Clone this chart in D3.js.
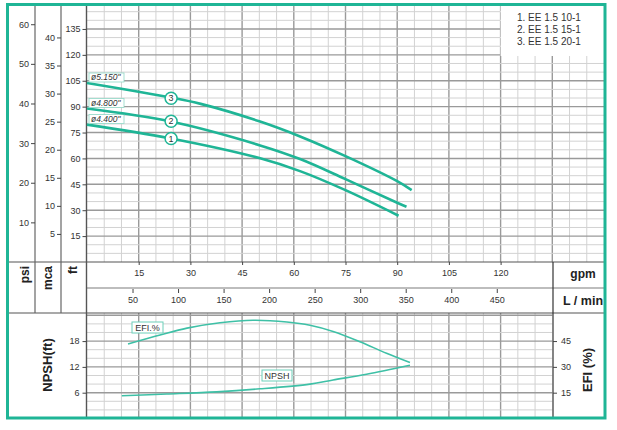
<!DOCTYPE html>
<html>
<head>
<meta charset="utf-8">
<script src="https://cdn.jsdelivr.net/npm/d3@7"></script>
<style>
body { margin:0; background:#fff; }
text { font-family: "Liberation Sans", Arial, sans-serif; }
</style>
</head>
<body>
<svg id="drawing_region"></svg>
<script>
// pump curves: flow (gpm) and head (ft)
const flow1 = [0, 24, 50, 62, 75, 90.4];
const head1 = [79.6, 71.7, 60.2, 52.5, 41.6, 26.8];
const flow2 = [0, 24, 50, 62, 75, 90, 92.7];
const head2 = [88.9, 81.5, 67.7, 59.5, 48.0, 34.3, 32.0];
const flow3 = [0, 24, 33, 50, 62, 75, 90, 94.2];
const head3 = [103.7, 95.4, 91.6, 81.5, 72.6, 61.3, 46.8, 41.6];
const impellers = ['ø4.400"', 'ø4.800"', 'ø5.150"'];
const models = ['1. EE 1.5 10-1', '2. EE 1.5 15-1', '3. EE 1.5 20-1'];
const markerFlow = [24.4, 24.4, 24.4];
const markerHead = [71.5, 81.5, 94.9];

// efficiency (%) and npsh (ft)
const efiFlow = [11.9, 21.2, 29, 38.6, 48.2, 58, 64.7, 71.4, 79.2, 86.9, 93.7];
const efiValue = [43.3, 48.5, 52.5, 55.6, 57.1, 56.1, 54.2, 50.6, 44.6, 37.9, 32.5];
const npshFlow = [10.1, 23.1, 37.6, 50.2, 64.7, 71.4, 81.1, 93.7];
const npshValue = [5.3, 5.7, 6.2, 6.9, 8.0, 8.95, 10.3, 12.4];

// tick labels
const psiTicks = [10, 20, 30, 40, 50, 60];
const mcaTicks = [5, 10, 15, 20, 25, 30, 35, 40];
const ftTicks = [15, 30, 45, 60, 75, 90, 105, 120, 135];
const gpmTicks = [15, 30, 45, 60, 75, 90, 105, 120];
const lpmTicks = [50, 100, 150, 200, 250, 300, 350, 400, 450];
const npshTicks = [6, 12, 18];
const efiTicks = [15, 30, 45];

const teal = '#1fb596';
const W = 617, H = 430;

const svg = d3.select('#drawing_region')
    .attr('width', W)
    .attr('height', H);

// scales
const x = d3.scaleLinear().domain([0, 150]).range([87, 604]);
const xl = d3.scaleLinear().domain([0, 150 * 3.785]).range([87, 604]);
const yFt = d3.scaleLinear().domain([0, 148.3]).range([262, 6]);
const yPsi = d3.scaleLinear().domain([0, 64.6]).range([262, 6]);
const yMca = d3.scaleLinear().domain([0, 45.6]).range([262, 6]);
const yNpsh = d3.scaleLinear().domain([0, 24.53]).range([418.5, 313]);
const yEfi = d3.scaleLinear().domain([0, 61.3]).range([418.5, 313]);

// ---- grid, top chart
const grid = svg.append('g');
d3.range(5, 150, 5).forEach(v => {
    grid.append('line')
        .attr('x1', x(v)).attr('x2', x(v))
        .attr('y1', 6).attr('y2', 262)
        .attr('stroke', v % 15 == 0 ? '#9a9a9a' : '#d2d2d2')
        .attr('stroke-width', v % 15 == 0 ? 1.4 : 1);
});
d3.range(5, 148, 5).forEach(v => {
    grid.append('line')
        .attr('x1', x(0)).attr('x2', x(150))
        .attr('y1', yFt(v)).attr('y2', yFt(v))
        .attr('stroke', v % 15 == 0 ? '#9a9a9a' : '#d2d2d2')
        .attr('stroke-width', v % 15 == 0 ? 1.4 : 1);
});

// ---- grid, bottom chart
d3.range(5, 135, 5).forEach(v => {
    grid.append('line')
        .attr('x1', x(v)).attr('x2', x(v))
        .attr('y1', 313).attr('y2', 417)
        .attr('stroke', v % 15 == 0 ? '#9a9a9a' : '#d2d2d2')
        .attr('stroke-width', v % 15 == 0 ? 1.4 : 1);
});
d3.range(2, 25, 2).forEach(v => {
    grid.append('line')
        .attr('x1', x(0)).attr('x2', x(135))
        .attr('y1', yNpsh(v)).attr('y2', yNpsh(v))
        .attr('stroke', v % 6 == 0 ? '#9a9a9a' : '#d2d2d2')
        .attr('stroke-width', v % 6 == 0 ? 1.4 : 1);
});

// legend box
svg.append('rect')
    .attr('x', x(120)).attr('y', 6)
    .attr('width', x(150) - x(120)).attr('height', 50)
    .attr('fill', 'white');
svg.selectAll('.model')
    .data(models)
    .enter()
    .append('text')
    .attr('x', 517)
    .attr('y', (d, i) => 20.5 + i * 12)
    .attr('font-size', '10px')
    .attr('fill', '#333')
    .text(d => d);

// ---- frame lines
const lines = [
    [7, 262, 604, 262, '#555', 1.2],
    [7, 313, 604, 313, '#555', 1.2],
    [87, 288, 604, 288, '#bdbdbd', 2.2],
    [35, 6, 35, 313, '#666', 1.2],
    [61, 6, 61, 313, '#666', 1.2],
    [86.5, 6, 86.5, 417, '#555', 1.4],
    [553, 262, 553, 417, '#333', 1.2]
];
lines.forEach(l => {
    svg.append('line')
        .attr('x1', l[0]).attr('y1', l[1])
        .attr('x2', l[2]).attr('y2', l[3])
        .attr('stroke', l[4]).attr('stroke-width', l[5]);
});

// ---- axes
function styleAxis(g) {
    g.select('.domain').remove();
    g.selectAll('text').attr('font-size', '9px').attr('fill', '#333')
        .attr('font-family', '"Liberation Sans", Arial, sans-serif');
    g.selectAll('line').attr('stroke', '#444');
}
svg.append('g').attr('transform', 'translate(35,0)')
    .call(d3.axisLeft(yPsi).tickValues(psiTicks).tickSize(4).tickPadding(2))
    .call(styleAxis);
svg.append('g').attr('transform', 'translate(61,0)')
    .call(d3.axisLeft(yMca).tickValues(mcaTicks).tickSize(4).tickPadding(2))
    .call(styleAxis);
svg.append('g').attr('transform', 'translate(86.5,0)')
    .call(d3.axisLeft(yFt).tickValues(ftTicks).tickSize(4).tickPadding(2))
    .call(styleAxis);
svg.append('g').attr('transform', 'translate(0,262)')
    .call(d3.axisBottom(x).tickValues(gpmTicks).tickSize(3).tickPadding(5))
    .call(styleAxis);
svg.append('g').attr('transform', 'translate(0,289)')
    .call(d3.axisBottom(xl).tickValues(lpmTicks).tickSize(4).tickPadding(4))
    .call(styleAxis);
svg.append('g').attr('transform', 'translate(86.5,0)')
    .call(d3.axisLeft(yNpsh).tickValues(npshTicks).tickSize(4).tickPadding(3))
    .call(styleAxis);
svg.append('g').attr('transform', 'translate(553,0)')
    .call(d3.axisRight(yEfi).tickValues(efiTicks).tickSize(4).tickPadding(4))
    .call(styleAxis);

// ---- axis titles
const titles = [
    ['psi', 25, 266, -90, 'end', 12],
    ['mca', 48.3, 266, -90, 'end', 12],
    ['ft', 73.3, 266, -90, 'end', 12],
    ['NPSH(ft)', 47, 365, -90, 'middle', 13],
    ['EFI (%)', 587, 370, -90, 'middle', 13],
    ['gpm', 583, 274, 0, 'middle', 12],
    ['L / min', 583, 301, 0, 'middle', 12.5]
];
titles.forEach(t => {
    svg.append('text')
        .attr('transform', `translate(${t[1]},${t[2]}) rotate(${t[3]})`)
        .attr('text-anchor', t[4])
        .attr('dominant-baseline', 'central')
        .attr('font-size', t[5] + 'px')
        .attr('font-weight', 'bold')
        .attr('fill', '#222')
        .text(t[0]);
});

// ---- pump curves
const line = d3.line()
    .x(d => x(d[0]))
    .y(d => yFt(d[1]))
    .curve(d3.curveCatmullRom.alpha(0.5));
const curves = [
    d3.zip(flow1, head1),
    d3.zip(flow2, head2),
    d3.zip(flow3, head3)
];
curves.forEach((c, i) => {
    svg.append('path')
        .attr('d', line(c))
        .attr('fill', 'none')
        .attr('stroke', teal)
        .attr('stroke-width', 2.6);

    // impeller label at curve start
    const y0 = yFt(c[0][1]);
    svg.append('rect')
        .attr('x', 89).attr('y', y0 - 10)
        .attr('width', 35).attr('height', 9)
        .attr('fill', 'white')
        .attr('stroke', '#8fd8c6')
        .attr('stroke-width', 0.8);
    svg.append('text')
        .attr('x', 91).attr('y', y0 - 2.5)
        .attr('font-size', '8.5px')
        .attr('font-style', 'italic')
        .attr('fill', '#333')
        .text(impellers[i]);

    // numbered marker
    svg.append('circle')
        .attr('cx', x(markerFlow[i]))
        .attr('cy', yFt(markerHead[i]))
        .attr('r', 6)
        .attr('fill', 'white')
        .attr('stroke', teal)
        .attr('stroke-width', 1.5);
    svg.append('text')
        .attr('x', x(markerFlow[i]))
        .attr('y', yFt(markerHead[i]))
        .attr('text-anchor', 'middle')
        .attr('dominant-baseline', 'central')
        .attr('font-size', '9px')
        .attr('fill', '#333')
        .text(i + 1);
});

// ---- efficiency & npsh curves
const lowLine = yScale => d3.line()
    .x(d => x(d[0]))
    .y(d => yScale(d[1]))
    .curve(d3.curveCatmullRom.alpha(0.5));
svg.append('path')
    .attr('d', lowLine(yEfi)(d3.zip(efiFlow, efiValue)))
    .attr('fill', 'none')
    .attr('stroke', '#3ec0a6')
    .attr('stroke-width', 1.6);
svg.append('path')
    .attr('d', lowLine(yNpsh)(d3.zip(npshFlow, npshValue)))
    .attr('fill', 'none')
    .attr('stroke', '#3ec0a6')
    .attr('stroke-width', 1.6);

const tags = [['EFI.%', 132, 322, 31], ['NPSH', 262, 370, 30]];
tags.forEach(t => {
    svg.append('rect')
        .attr('x', t[1]).attr('y', t[2])
        .attr('width', t[3]).attr('height', 11)
        .attr('fill', 'white')
        .attr('stroke', '#6ccfb9')
        .attr('stroke-width', 1);
    svg.append('text')
        .attr('x', t[1] + t[3] / 2).attr('y', t[2] + 5.5)
        .attr('text-anchor', 'middle')
        .attr('dominant-baseline', 'central')
        .attr('font-size', '9px')
        .attr('fill', '#333')
        .text(t[0]);
});

// outer frame
svg.append('rect')
    .attr('x', 7.5).attr('y', 4.5)
    .attr('width', 597.5).attr('height', 413.5)
    .attr('fill', 'none')
    .attr('stroke', teal)
    .attr('stroke-width', 3);
</script>
</body>
</html>
